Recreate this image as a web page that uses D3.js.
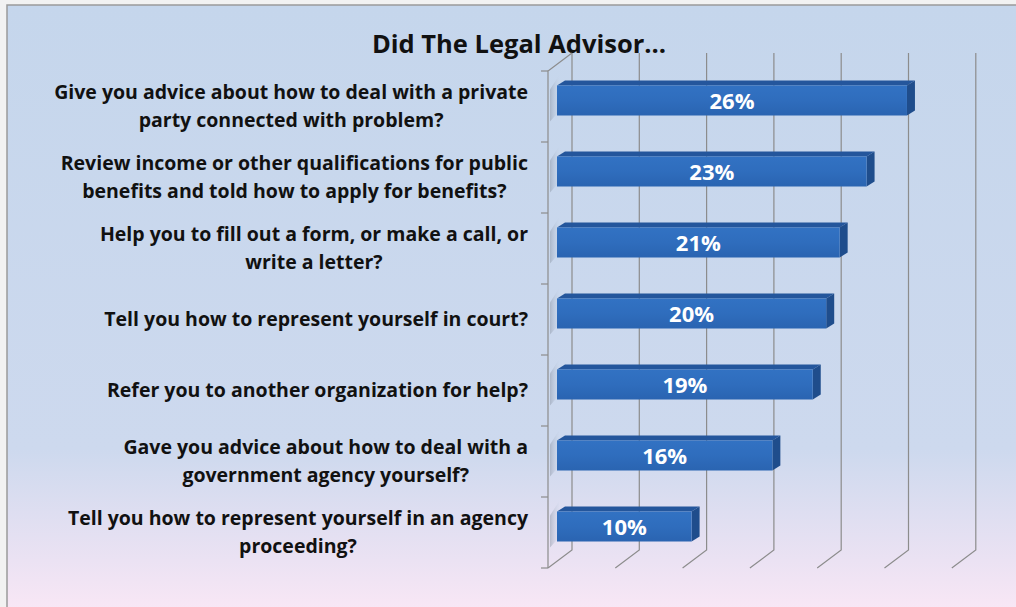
<!DOCTYPE html>
<html lang="en">
<head>
<meta charset="UTF-8">
<title>Did The Legal Advisor...</title>
<script src="https://d3js.org/d3.v7.min.js"></script>
<style>
  body { margin: 0; background: #f2f2f2; }
  svg { display: block; }
  text { font-family: "Open Sans", Lato, sans-serif; font-weight: bold; }
</style>
</head>
<body>
<div id="chart"></div>
<script>
// -- data --
const categories = [
  ["Give you advice about how to deal with a private", "party connected with problem?"],
  ["Review income or other qualifications for public", "benefits and told how to apply for benefits?"],
  ["Help you to fill out a form, or make a call, or", "write a letter?"],
  ["Tell you how to represent yourself in court?"],
  ["Refer you to another organization for help?"],
  ["Gave you advice about how to deal with a", "government agency yourself?"],
  ["Tell you how to represent yourself in an agency", "proceeding?"]
];
const values = [26, 23, 21, 20, 19, 16, 10];
const xTicks = [0, 5, 10, 15, 20, 25, 30];
const title = "Did The Legal Advisor...";

const width = 1016, height = 607;
// 3d offsets of the back wall / bar depth
const depthX = 24, depthY = -18;
const barOffX = 9, barOffY = -7;   // bar front face position inside the depth
const barDX = 8, barDY = -5;       // bar thickness

const x = d3.scaleLinear().domain([0, 30]).range([548, 548 + 6 * 67.3]);
const band = d3.scaleBand().domain(d3.range(categories.length)).range([71, 568]);

const svg = d3.select("#chart").append("svg")
  .attr("width", width).attr("height", height);

const defs = svg.append("defs");
const bg = defs.append("linearGradient").attr("id", "bg").attr("x1", 0).attr("y1", 0).attr("x2", 0).attr("y2", 1);
bg.append("stop").attr("offset", "0%").attr("stop-color", "#c5d6ec");
bg.append("stop").attr("offset", "72%").attr("stop-color", "#cdd9ee");
bg.append("stop").attr("offset", "90%").attr("stop-color", "#ebe2f3");
bg.append("stop").attr("offset", "100%").attr("stop-color", "#fce8f6");

const front = defs.append("linearGradient").attr("id", "front").attr("x1", 0).attr("y1", 0).attr("x2", 0).attr("y2", 1);
front.append("stop").attr("offset", "0%").attr("stop-color", "#3272c3");
front.append("stop").attr("offset", "50%").attr("stop-color", "#2f6dbd");
front.append("stop").attr("offset", "100%").attr("stop-color", "#2a64b1");

const shade = defs.append("linearGradient").attr("id", "shade").attr("x1", 0).attr("y1", 0).attr("x2", 1).attr("y2", 0);
shade.append("stop").attr("offset", "0%").attr("stop-color", "#8a94a4").attr("stop-opacity", 0.9);
shade.append("stop").attr("offset", "100%").attr("stop-color", "#c5d3e6").attr("stop-opacity", 0.2);

// -- background frame --
svg.append("rect").attr("x", 7).attr("y", 5).attr("width", width + 10).attr("height", height + 10)
  .attr("fill", "url(#bg)").attr("stroke", "#9a9a9a").attr("stroke-width", 1.5);

// -- title --
svg.append("text").attr("x", 519).attr("y", 53).attr("text-anchor", "middle")
  .attr("font-size", 25.5).attr("fill", "#111").text(title);

const yTop = 71, yBot = 568;

// -- gridlines on back wall + floor diagonals --
const grid = svg.append("g").attr("stroke", "#8c8c8c").attr("stroke-width", 1.2).attr("fill", "none");
xTicks.forEach(t => {
  const xb = x(t) + depthX;
  grid.append("path").attr("d", `M${xb},${yTop + depthY}V${yBot + depthY}L${x(t)},${yBot}`);
});
// front axis line, top diagonal and ticks
grid.append("path").attr("d", `M${x(0)},${yBot}V${yTop}L${x(0) + depthX},${yTop + depthY}`);
d3.range(categories.length + 1).forEach(i => {
  const yy = yTop + i * band.bandwidth();
  grid.append("line").attr("x1", x(0) - 7).attr("x2", x(0)).attr("y1", yy).attr("y2", yy);
});

// -- bars --
const bars = svg.append("g");
values.forEach((v, i) => {
  const cy = band(i) + band.bandwidth() / 2 + barOffY;
  const h = 30;
  const y0 = cy - h / 2 + 1, y1 = cy + h / 2 + 1;
  const x0 = x(0) + barOffX, x1 = x(v) + barOffX;
  const g = bars.append("g");
  // small shadow on the side wall
  g.append("path")
    .attr("d", `M${x(0) + 2},${y0 + 4}L${x0 + 2},${y0 - 10}L${x0 + 2},${y1 - 4}L${x(0) + 2},${y1 + 6}Z`)
    .attr("fill", "url(#shade)").attr("opacity", 0.55);
  // top
  g.append("path").attr("d", `M${x0},${y0}L${x0 + barDX},${y0 + barDY}L${x1 + barDX},${y0 + barDY}L${x1},${y0}Z`)
    .attr("fill", "#24569c");
  // side
  g.append("path").attr("d", `M${x1},${y0}L${x1 + barDX},${y0 + barDY}L${x1 + barDX},${y1 + barDY}L${x1},${y1}Z`)
    .attr("fill", "#1f4d8c");
  // front
  g.append("rect").attr("x", x0).attr("y", y0).attr("width", x1 - x0).attr("height", y1 - y0)
    .attr("fill", "url(#front)");
  g.append("text").attr("x", (x0 + x1) / 2).attr("y", cy + 9)
    .attr("text-anchor", "middle").attr("font-size", 22).attr("fill", "#fff")
    .text(v + "%");
});

// -- category labels (lines centred, block right-aligned) --
const labels = svg.append("g");
categories.forEach((lines, i) => {
  const cy = band(i) + band.bandwidth() / 2;
  const g = labels.append("g");
  const lh = 28.5;
  const texts = lines.map((s, k) => g.append("text")
    .attr("y", cy + (k - (lines.length - 1) / 2) * lh + 6.5)
    .attr("text-anchor", "middle").attr("font-size", 19.5).attr("fill", "#111").text(s));
  const w = d3.max(texts, t => t.node().getComputedTextLength());
  texts.forEach(t => t.attr("x", 528 - w / 2));
});
</script>
</body>
</html>
